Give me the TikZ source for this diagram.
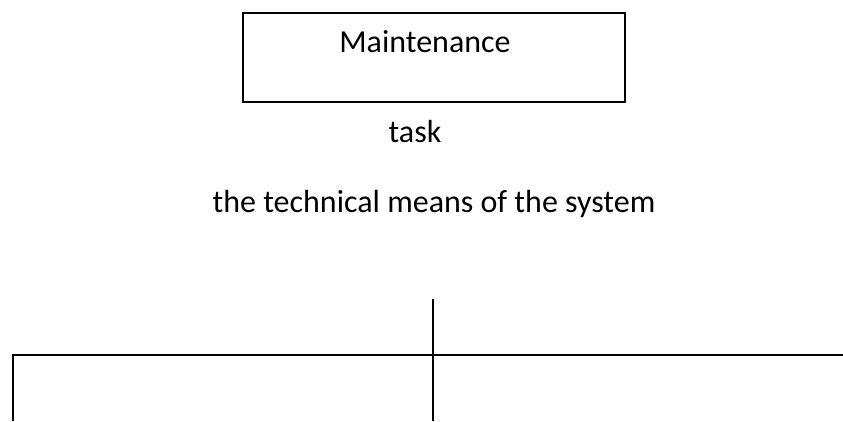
\documentclass[tikz,border=0pt]{standalone}
\usepackage{fontspec}
\setmainfont{Carlito}
\begin{document}
\begin{tikzpicture}[x=1pt,y=-1pt,
  lbl/.style={anchor=base,inner sep=0pt,font=\fontsize{32}{38}\selectfont},
  frame/.style={draw=black,line width=2.2pt},
  rule/.style={draw=black,line width=2.4pt}]
  \useasboundingbox (0,0) rectangle (843,421);
  % top box with its caption
  \node[frame,rectangle,minimum width=382pt,minimum height=89pt,inner sep=0pt] (box) at (434,57.2) {};
  \node[lbl] (maint) at (425,52) {Maintenance};
  % free captions below the box
  \node[lbl] (task) at (415,142.2) {task};
  \node[lbl] (means) at (434,212) {the technical means of the system};
  % bracket of lines at the bottom
  \coordinate (stemtop) at (433,299);
  \coordinate (stembot) at (433,421);
  \coordinate (barleft) at (13,355);
  \coordinate (barright) at (843,355);
  \coordinate (leftbot) at (13,421);
  \draw[rule] (stemtop) -- (stembot);
  \draw[rule] (leftbot) -- (barleft) -- (barright);
\end{tikzpicture}
\end{document}
